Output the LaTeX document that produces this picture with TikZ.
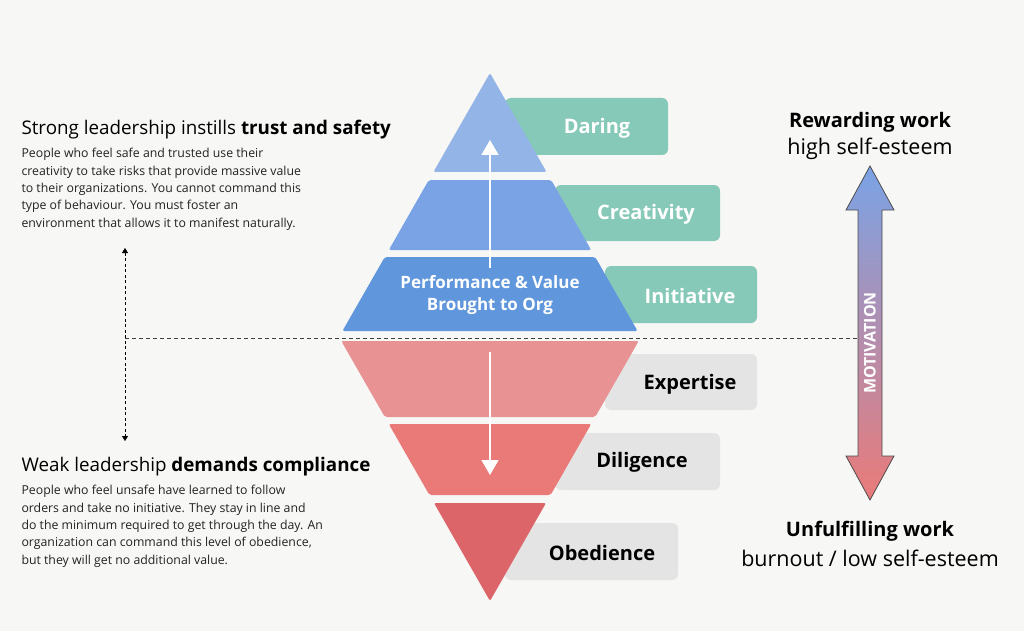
\documentclass[tikz,border=0pt]{standalone}
\usepackage{fontspec}
\setmainfont{Open Sans}
\usetikzlibrary{arrows.meta}
\definecolor{bg}{HTML}{F7F7F5}
\definecolor{teal}{HTML}{86C9B8}
\definecolor{grayb}{HTML}{E4E4E4}
\definecolor{bA}{HTML}{93B4E6}
\definecolor{bB}{HTML}{7AA3E6}
\definecolor{bC}{HTML}{6096DC}
\definecolor{rA}{HTML}{E89294}
\definecolor{rB}{HTML}{EA7A78}
\definecolor{rC}{HTML}{DC6569}
\definecolor{txt}{HTML}{222222}
\begin{document}
\begin{tikzpicture}[x=1pt,y=-1pt,
  tag/.style={rounded corners=6pt},
  tagtxt/.style={font=\fontsize{20}{23}\selectfont\bfseries},
  layer/.style={rounded corners=2pt},
  head/.style={anchor=west,font=\fontsize{18.8}{22}\selectfont,text=black},
  para/.style={anchor=north west,align=left,font=\fontsize{12.3}{17.3}\selectfont,text=txt},
  side/.style={font=\fontsize{21.5}{25}\selectfont,text=black}]
\fill[bg] (0,0) rectangle (1024,631);
\useasboundingbox (0,0) rectangle (1024,631);
% tags
\fill[teal,tag] (505,98) rectangle (668,155);
\fill[teal,tag] (555,185) rectangle (720,241);
\fill[teal,tag] (605,266) rectangle (757,323);
\fill[grayb,tag] (605,354) rectangle (757,410);
\fill[grayb,tag] (555,433) rectangle (720,490);
\fill[grayb,tag] (505,523) rectangle (678,580);
\node[tagtxt,white] (t1) at (597,128) {Daring};
\node[tagtxt,white] (t2) at (646,214) {Creativity};
\node[tagtxt,white] (t3) at (690,296) {Initiative};
\node[tagtxt,black] (t4) at (690,384) {Expertise};
\node[tagtxt,black] (t5) at (642,462) {Diligence};
\node[tagtxt,black] (t6) at (602,553) {Obedience};
% dashed line
\coordinate (dl) at (125,338);
\coordinate (dr) at (862,338);
\draw[dashed,black!75,dash pattern=on 4pt off 3pt] (dl) -- (dr);
% pyramid
\fill[bA,layer] (490,73) -- (546.6,172) -- (433.4,172) -- cycle;
\fill[bB,layer] (428.8,180) -- (551.2,180) -- (591.2,250) -- (388.8,250) -- cycle;
\fill[bC,layer] (384.8,257) -- (595.2,257) -- (637.6,331) -- (342.4,331) -- cycle;
\fill[rA,layer] (341.3,341) -- (638.7,341) -- (595.2,417) -- (384.8,417) -- cycle;
\fill[rB,layer] (388.8,424) -- (591.2,424) -- (550.6,495) -- (429.4,495) -- cycle;
\fill[rC,layer] (434,503) -- (546,503) -- (490,601) -- cycle;
\node[white,font=\fontsize{17}{22}\selectfont\bfseries,align=center] (perf) at (490,295) {Performance \& Value\\Brought to Org};
\coordinate (u0) at (490,268); \coordinate (u1) at (490,140);
\coordinate (d0) at (490,352); \coordinate (d1) at (490,475);
\draw[white,line width=1.6pt,-{Triangle[width=17pt,length=15pt]}] (u0) -- (u1);
\draw[white,line width=1.6pt,-{Triangle[width=17pt,length=15pt]}] (d0) -- (d1);
% left texts
\node[head] (h1) at (18,130) {Strong leadership instills \textbf{trust and safety}};
\node[para] (p1) at (18,145) {People who feel safe and trusted use their\\creativity to take risks that provide massive value\\to their organizations. You cannot command this\\type of behaviour. You must foster an\\environment that allows it to manifest naturally.};
\node[head] (h2) at (18,467) {Weak leadership \textbf{demands compliance}};
\node[para] (p2) at (18,482) {People who feel unsafe have learned to follow\\orders and take no initiative. They stay in line and\\do the minimum required to get through the day. An\\organization can command this level of obedience,\\but they will get no additional value.};
\coordinate (la) at (125,248); \coordinate (lb) at (125,441);
\draw[dashed,dash pattern=on 3pt off 2.5pt,{Triangle[width=6pt,length=5pt]}-{Triangle[width=6pt,length=5pt]}] (la) -- (lb);
% right
\node[side,font=\fontsize{20}{24}\selectfont\bfseries] (rw) at (870,122) {Rewarding work};
\node[side] (hs) at (870,149) {high self-esteem};
\node[side,font=\fontsize{20}{24}\selectfont\bfseries] (uw) at (870,531) {Unfulfilling work};
\node[side] (bo) at (870,558) {burnout / low self-esteem};
\path[draw=black!70,line width=0.8pt,top color=bB,bottom color=rB]
 (870,166) -- (894,210) -- (882,210) -- (882,456) -- (894,456) -- (870,500) -- (846,456) -- (858,456) -- (858,210) -- (846,210) -- cycle;
\node[white,rotate=90,font=\fontsize{16}{18}\selectfont\bfseries] (mot) at (870,343) {MOTIVATION};
\end{tikzpicture}
\end{document}
